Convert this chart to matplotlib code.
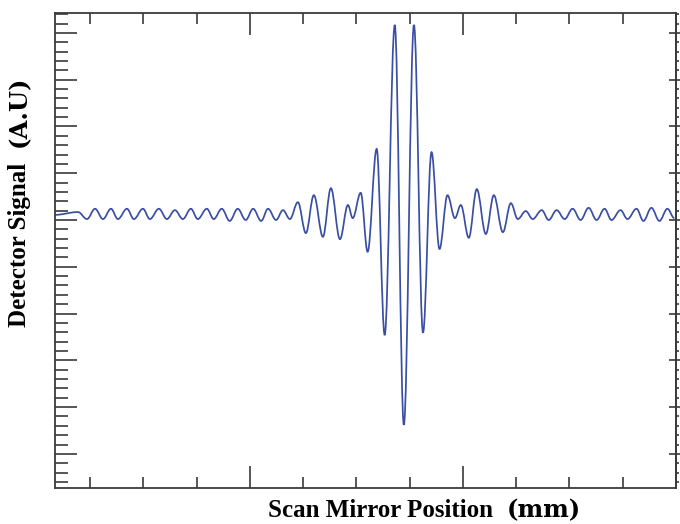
import numpy as np
import matplotlib
matplotlib.use('Agg')
import matplotlib.pyplot as plt
from matplotlib.path import Path
from matplotlib.patches import PathPatch
from matplotlib.ticker import MultipleLocator, NullFormatter

# fringe extrema (position in tick units, signal in A.U.)
position = [-3.66, -3.23, -3.06, -2.91, -2.76, -2.61, -2.48, -2.31, -2.18, -2.01,
            -1.88, -1.71, -1.56, -1.41, -1.26, -1.11, -0.98, -0.81, -0.68, -0.53,
            -0.38, -0.23, -0.08, 0.06, 0.21, 0.34, 0.49, 0.62, 0.75, 0.90,
            1.05, 1.20, 1.37, 1.52, 1.69, 1.84, 1.93, 2.08, 2.21, 2.38,
            2.53, 2.72, 2.89, 3.08, 3.25, 3.41, 3.56, 3.71, 3.85, 3.96,
            4.11, 4.26, 4.43, 4.58, 4.75, 4.90, 5.03, 5.18, 5.31, 5.48,
            5.61, 5.76, 5.91, 6.06, 6.21, 6.36, 6.51, 6.66, 6.79, 6.96,
            7.09, 7.26, 7.39, 7.54, 7.69, 7.84, 7.97]
signal = [5.11, 5.17, 5.02, 5.24, 5.02, 5.24, 5.02, 5.24, 5.02, 5.24,
          5.02, 5.24, 5.02, 5.21, 5.02, 5.24, 5.02, 5.24, 5.02, 5.24,
          4.98, 5.24, 5.00, 5.24, 4.98, 5.24, 5.00, 5.21, 5.02, 5.38,
          4.72, 5.53, 4.64, 5.68, 4.59, 5.32, 5.04, 5.58, 4.32, 6.52,
          2.54, 9.17, 0.62, 9.17, 2.59, 6.45, 4.38, 5.53, 5.04, 5.32,
          4.62, 5.66, 4.70, 5.53, 4.74, 5.36, 5.02, 5.19, 5.02, 5.21,
          5.00, 5.21, 5.02, 5.24, 5.00, 5.26, 5.00, 5.24, 5.00, 5.21,
          5.02, 5.24, 4.98, 5.26, 4.98, 5.24, 5.04]

x_range = (-3.66, 8.0)
y_range = (-0.73, 9.42)

line_color = '#3a4ea3'
axis_color = '#3a3a3a'

fig = plt.figure(figsize=(6.8, 5.24), dpi=100)
ax = fig.add_axes([0.081, 0.0687, 0.913, 0.906])

# smooth fringe path: cubic segments with flat tangents at every extremum
k = 1 - 2 / np.pi
verts = [(position[0], signal[0])]
codes = [Path.MOVETO]
for (x0, y0), (x1, y1) in zip(zip(position[:-1], signal[:-1]), zip(position[1:], signal[1:])):
    dx = x1 - x0
    verts += [(x0 + k * dx, y0), (x1 - k * dx, y1), (x1, y1)]
    codes += [Path.CURVE4] * 3
ax.add_patch(PathPatch(Path(verts, codes), fill=False, edgecolor=line_color, lw=1.25))

ax.set_xlim(*x_range)
ax.set_ylim(*y_range)

for s in ax.spines.values():
    s.set_color(axis_color)
    s.set_linewidth(1.3)

ax.xaxis.set_major_locator(MultipleLocator(4))
ax.xaxis.set_minor_locator(MultipleLocator(1))
ax.yaxis.set_major_locator(MultipleLocator(1))
ax.yaxis.set_minor_locator(MultipleLocator(0.2))
ax.xaxis.set_major_formatter(NullFormatter())
ax.yaxis.set_major_formatter(NullFormatter())

ax.tick_params(axis='x', which='both', direction='in', top=True, bottom=True, color=axis_color, width=1.2)
ax.tick_params(axis='x', which='major', length=16)
ax.tick_params(axis='x', which='minor', length=8)
ax.tick_params(axis='y', which='both', direction='in', left=True, right=False, color=axis_color, width=1.2)
ax.tick_params(axis='y', which='major', length=16)
ax.tick_params(axis='y', which='minor', length=9)

# right side has its own (outward) ticks
sec = ax.secondary_yaxis('right')
sec.yaxis.set_major_locator(MultipleLocator(1))
sec.yaxis.set_minor_locator(MultipleLocator(0.2))
sec.yaxis.set_major_formatter(NullFormatter())
sec.spines['right'].set_color(axis_color)
sec.spines['right'].set_linewidth(1.3)
sec.tick_params(which='major', direction='inout', length=10, width=1.2, color=axis_color)
sec.tick_params(which='minor', direction='out', length=2, width=1.2, color=axis_color)

# axis titles: Times-like bold with the unit in a heavier serif
fig.text(0.394, 0.013, 'Scan Mirror Position', family='Liberation Serif', weight='bold',
         fontsize=18, ha='left', va='baseline')
fig.text(0.745, 0.013, '(mm)', family='DejaVu Serif', weight='bold',
         fontsize=17.5, ha='left', va='baseline')
fig.text(0.045, 0.376, 'Detector Signal', family='Liberation Serif', weight='bold',
         fontsize=18, rotation=90, ha='right', va='bottom')
fig.text(0.045, 0.72, '(A.U)', family='DejaVu Serif', weight='bold',
         fontsize=17.5, rotation=90, ha='right', va='bottom')

fig.savefig('out.png', dpi=100)
